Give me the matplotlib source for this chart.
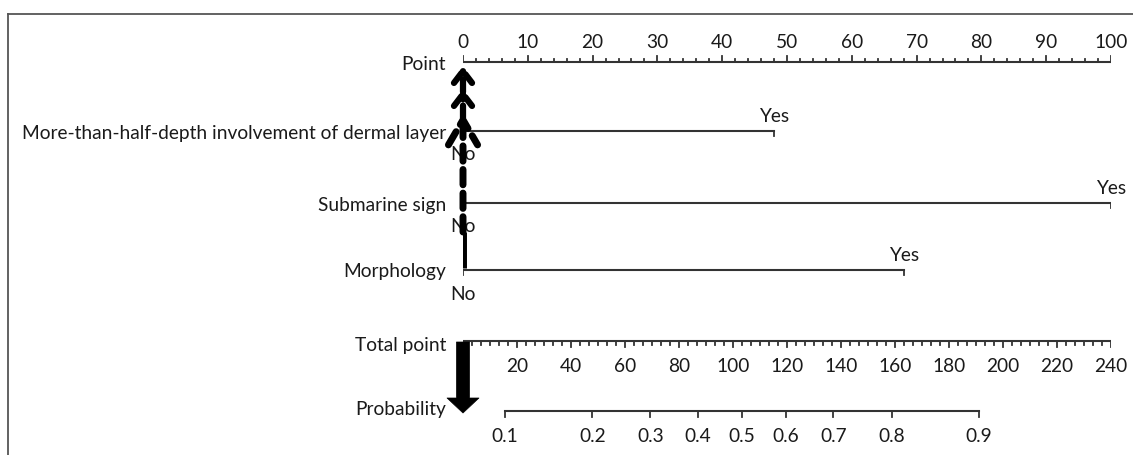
import numpy as np
import matplotlib
matplotlib.use("Agg")
import matplotlib.pyplot as plt
import matplotlib.transforms as mtransforms

plt.rcParams['font.family'] = ['Lato', 'DejaVu Sans']

# nomogram data
point_ticks = list(range(0, 101, 10))
variables = ['More-than-half-depth involvement of dermal layer', 'Submarine sign', 'Morphology']
yes_points = [48, 100, 68]
total_max = 240
total_ticks = list(range(20, 241, 20))
prob_ticks = [0.1, 0.2, 0.3, 0.4, 0.5, 0.6, 0.7, 0.8, 0.9]
logit_intercept = 103.3   # total points where probability = 0.5
logit_slope = 40.0        # total points per logit unit

# layout (y in pixels from top)
W, H = 1133, 455
x0, x1 = 463, 1111
y_point = 62
y_rows = [131, 203, 270]
y_total = 341
y_prob = 411
line_col = '#333333'
txt_col = '#1a1a1a'
fs = 13.8

fig = plt.figure(figsize=(W / 100, H / 100), dpi=100)
ax = fig.add_axes([x0 / W, 0, (x1 - x0) / W, 1])
ax.set_xlim(0, 100)
ax.set_ylim(H, 0)
ax.axis('off')

label_tr = mtransforms.offset_copy(ax.transData, fig=fig, x=-17, y=0, units='dots')


def total_to_point(t):
    return np.asarray(t) * 100 / total_max


def prob_to_total(p):
    p = np.asarray(p)
    return logit_intercept + logit_slope * np.log(p / (1 - p))


def row_label(y, text):
    ax.text(0, y, text, transform=label_tr, ha='right', va='center',
            fontsize=fs, color=txt_col, clip_on=False)


# Point axis
ax.plot([0, 100], [y_point, y_point], color=line_col, lw=1.5, solid_capstyle='butt')
for v in np.arange(0, 101, 2):
    ln = 6 if v % 10 == 0 else 3
    ax.plot([v, v], [y_point, y_point - ln], color=line_col, lw=1.3)
for v in point_ticks:
    ax.text(v, y_point - 19, str(v), ha='center', va='center', fontsize=fs, color=txt_col)
row_label(y_point + 3, 'Point')

# variable rows
for name, yp, y in zip(variables, yes_points, y_rows):
    ax.plot([0, yp], [y, y], color=line_col, lw=1.5)
    ax.plot([0, 0], [y, y + 5], color=line_col, lw=1.3)
    ax.plot([yp, yp], [y, y + 5], color=line_col, lw=1.3)
    ax.text(yp, y - 6, 'Yes', ha='center', va='bottom', fontsize=fs, color=txt_col)
    ax.text(0, y + 24, 'No', ha='center', va='center', fontsize=fs, color=txt_col)
    row_label(y + 2, name)

# Total point axis
ax.plot([0, 100], [y_total, y_total], color=line_col, lw=1.5)
for t in np.linspace(0, total_max, 73):
    is_major = abs(t / 20 - round(t / 20)) < 1e-6
    ln = 6 if is_major else 3.5
    ax.plot([total_to_point(t)] * 2, [y_total, y_total + ln], color=line_col, lw=1.3)
for t in total_ticks:
    ax.text(total_to_point(t), y_total + 25, str(t), ha='center', va='center',
            fontsize=fs, color=txt_col)
row_label(y_total + 4, 'Total point')

# Probability axis
px = total_to_point(prob_to_total(prob_ticks))
ax.plot([px[0], px[-1]], [y_prob, y_prob], color=line_col, lw=1.5)
for p, xv in zip(prob_ticks, px):
    ax.plot([xv, xv], [y_prob, y_prob + 6], color=line_col, lw=1.3)
    ax.text(xv, y_prob + 25, f'{p:.1f}', ha='center', va='center', fontsize=fs, color=txt_col)
row_label(y_prob - 1, 'Probability')

# observation arrows (all predictors at "No" = 0 points)
ax.plot([0, 0], [y_rows[2] - 2, 232], color='black', lw=5, solid_capstyle='butt')
ax.annotate('', xy=(0, 113), xytext=(0, 232),
            arrowprops=dict(arrowstyle='->,head_length=1.8,head_width=1.05',
                            color='black', lw=5, linestyle=(0, (2.2, 1.2)),
                            shrinkA=0, shrinkB=0))
ax.annotate('', xy=(0, 89), xytext=(0, 118),
            arrowprops=dict(arrowstyle='->,head_length=0.85,head_width=0.65',
                            color='black', lw=4.5, linestyle=(0, (2, 1)),
                            shrinkA=0, shrinkB=0))
ax.annotate('', xy=(0, 66), xytext=(0, 92),
            arrowprops=dict(arrowstyle='->,head_length=0.85,head_width=0.65',
                            color='black', lw=4.5, linestyle=(0, (2, 1)),
                            shrinkA=0, shrinkB=0))

# total point -> probability arrow
ax.annotate('', xy=(0, 413), xytext=(0, y_total + 1),
            arrowprops=dict(arrowstyle='simple,head_length=0.54,head_width=1.15,tail_width=0.47',
                            fc='black', ec='black', lw=0.5, mutation_scale=20,
                            shrinkA=0, shrinkB=0))

# outer frame (top and left edges)
fig.add_artist(plt.Line2D([8 / W, 1], [1 - 14 / H, 1 - 14 / H], color='#555555', lw=1.3,
                          transform=fig.transFigure))
fig.add_artist(plt.Line2D([8 / W, 8 / W], [0, 1 - 14 / H], color='#555555', lw=1.3,
                          transform=fig.transFigure))

fig.savefig('out.png', dpi=100)
